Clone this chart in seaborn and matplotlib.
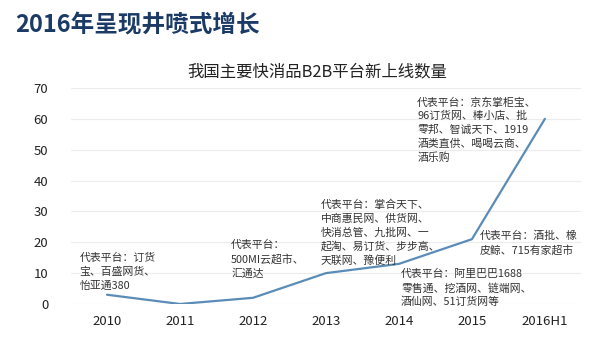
import matplotlib
matplotlib.use("Agg")
import matplotlib.pyplot as plt
import seaborn as sns
import pandas as pd

years = ["2010", "2011", "2012", "2013", "2014", "2015", "2016H1"]
counts = [3, 0, 2, 10, 13, 21, 60]
y_ticks = [0, 10, 20, 30, 40, 50, 60, 70]

notes = [
    "代表平台：订货\n宝、百盛网货、\n怡亚通380",
    "代表平台：\n500MI云超市、\n汇通达",
    "代表平台：掌合天下、\n中商惠民网、供货网、\n快消总管、九批网、一\n起淘、易订货、步步高、\n天联网、豫便利",
    "代表平台：京东掌柜宝、\n96订货网、棒小店、批\n零邦、智诚天下、1919\n酒类直供、喝喝云商、\n酒乐购",
    "代表平台：酒批、橡\n皮鲸、715有家超市",
    "代表平台：阿里巴巴1688\n零售通、挖酒网、链端网、\n酒仙网、51订货网等",
]
note_x = [-0.38, 1.70, 2.93, 4.25, 5.11, 4.03]
note_y = [16.5, 20.7, 33.7, 67.0, 23.7, 11.3]

sns.set_theme(style="white")
plt.rcParams["font.family"] = ["Noto Sans CJK SC", "DejaVu Sans"]

df = pd.DataFrame({"year": years, "count": counts})

fig = plt.figure(figsize=(6.1, 3.57), dpi=100)
ax = fig.add_axes([0.1156, 0.1485, 0.8375, 0.605])

sns.lineplot(data=df, x="year", y="count", ax=ax, color="#5b8cb8",
             linewidth=1.6, sort=False)

ax.set_xlim(-0.5, len(years) - 0.5)
ax.set_ylim(0, 70)
ax.set_yticks(y_ticks)
ax.grid(axis="y", color="#ececec", linewidth=0.8)
ax.set_axisbelow(True)
for s in ax.spines.values():
    s.set_visible(False)
ax.set_xlabel("")
ax.set_ylabel("")
ax.tick_params(axis="both", length=0, labelsize=9.5, colors="#222222")
ax.tick_params(axis="y", pad=16)
ax.tick_params(axis="x", pad=8)

for t, x, y in zip(notes, note_x, note_y):
    ax.text(x, y, t, fontsize=7.8, color="#333333", va="top", ha="left",
            linespacing=1.4)

fig.text(0.025, 0.93, "2016年呈现井喷式增长", fontsize=17, fontweight="bold",
         color="#1b3a66", va="center", ha="left")
fig.text(0.52, 0.80, "我国主要快消品B2B平台新上线数量", fontsize=11.8,
         color="#222222", va="center", ha="center")

fig.savefig("out.png", dpi=100)
